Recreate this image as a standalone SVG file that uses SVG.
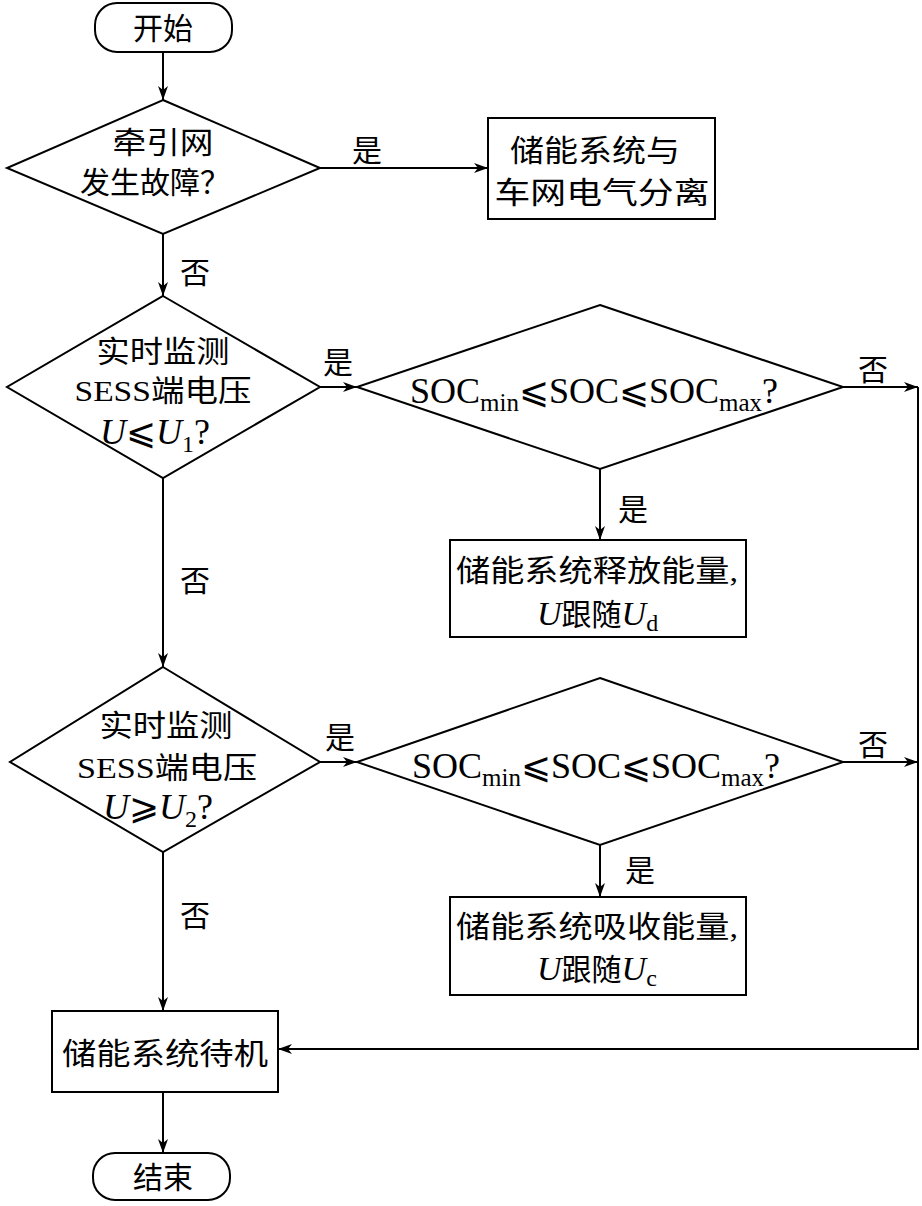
<svg xmlns="http://www.w3.org/2000/svg" width="922" height="1206" viewBox="0 0 922 1206">
<style>
.s{fill:none;stroke:#000;stroke-width:2}
.n{fill:#fff;stroke:#000;stroke-width:2}
.t{font-family:"Liberation Serif","Noto Sans CJK SC",serif;font-size:30px;fill:#000}
.c{text-anchor:middle}
.l{font-family:"Liberation Serif","DejaVu Serif","Noto Sans CJK SC",serif;font-size:36px;fill:#000}
.u{font-family:"Liberation Serif","DejaVu Serif","Noto Sans CJK SC",serif;font-size:36px;fill:#000}
.i{font-style:italic}
</style>
<defs>
<marker id="a" viewBox="0 0 14 10" refX="14" refY="5" markerWidth="14" markerHeight="10" markerUnits="userSpaceOnUse" orient="auto">
<path d="M0,0 L14,5 L0,10 L4,5 z" fill="#000"/>
</marker>
</defs>
<g id="connectors">
<line class="s" x1="163" y1="52" x2="163" y2="100" marker-end="url(#a)"/>
<line class="s" x1="320" y1="168" x2="488" y2="168" marker-end="url(#a)"/>
<line class="s" x1="163" y1="234" x2="163" y2="296" marker-end="url(#a)"/>
<line class="s" x1="320" y1="387" x2="357" y2="387" marker-end="url(#a)"/>
<line class="s" x1="843" y1="387" x2="918" y2="387" marker-end="url(#a)"/>
<line class="s" x1="600" y1="469" x2="600" y2="540" marker-end="url(#a)"/>
<line class="s" x1="163" y1="478" x2="163" y2="667" marker-end="url(#a)"/>
<line class="s" x1="320" y1="762" x2="357" y2="762" marker-end="url(#a)"/>
<line class="s" x1="843" y1="762" x2="918" y2="762" marker-end="url(#a)"/>
<line class="s" x1="600" y1="845" x2="600" y2="897" marker-end="url(#a)"/>
<line class="s" x1="163" y1="852" x2="163" y2="1011" marker-end="url(#a)"/>
<polyline class="s" points="918,387 918,1049 278,1049" marker-end="url(#a)"/>
<line class="s" x1="163" y1="1092" x2="163" y2="1153" marker-end="url(#a)"/>
<text class="t" x="352" y="161">是</text>
<text class="t" x="180" y="283">否</text>
<text class="t" x="323" y="373">是</text>
<text class="t" x="858" y="380">否</text>
<text class="t" x="618" y="520">是</text>
<text class="t" x="180" y="591">否</text>
<text class="t" x="325" y="748">是</text>
<text class="t" x="858" y="755">否</text>
<text class="t" x="625" y="881">是</text>
<text class="t" x="180" y="926">否</text>
</g>
<g id="start">
<rect class="n" x="95" y="3" width="137" height="49" rx="22" ry="22"/>
<text class="t c" x="163" y="39">开始</text>
</g>
<g id="d1">
<polygon class="n" points="163,100 320,168 163,234 7,168"/>
<text class="t c" x="163" y="153" textLength="101" lengthAdjust="spacingAndGlyphs">牵引网</text>
<text class="t c" x="155" y="193" textLength="150" lengthAdjust="spacingAndGlyphs">发生故障？</text>
</g>
<g id="b1">
<rect class="n" x="488" y="118" width="227" height="101"/>
<text class="t c" x="595" y="161" textLength="170" lengthAdjust="spacingAndGlyphs">储能系统与</text>
<text class="t c" x="602" y="203" textLength="215" lengthAdjust="spacingAndGlyphs">车网电气分离</text>
</g>
<g id="d2">
<polygon class="n" points="163,296 320,387 163,478 7,387"/>
<text class="t c" x="163" y="362" textLength="133" lengthAdjust="spacingAndGlyphs">实时监测</text>
<text class="t c" x="163" y="401" textLength="177" lengthAdjust="spacingAndGlyphs">SESS端电压</text>
<text class="u" x="100" y="444"><tspan class="i">U</tspan>⩽<tspan class="i">U</tspan><tspan font-size="24" dy="8">1</tspan><tspan dy="-8">?</tspan></text>
</g>
<g id="d3">
<polygon class="n" points="600,305 843,387 600,469 357,387"/>
<text class="l" x="410" y="403">SOC<tspan font-size="25" dy="8">min</tspan><tspan dy="-8">⩽SOC⩽SOC</tspan><tspan font-size="25" dy="8">max</tspan><tspan dy="-8">?</tspan></text>
</g>
<g id="b2">
<rect class="n" x="450" y="540" width="296" height="97"/>
<text class="t c" x="597" y="581" textLength="282" lengthAdjust="spacingAndGlyphs">储能系统释放能量,</text>
<text class="t" x="537" y="625"><tspan class="i" font-size="34">U</tspan>跟随<tspan class="i" font-size="34">U</tspan><tspan font-size="24" dy="6">d</tspan></text>
</g>
<g id="d4">
<polygon class="n" points="163,667 320,762 163,852 10,762"/>
<text class="t c" x="166" y="736" textLength="133" lengthAdjust="spacingAndGlyphs">实时监测</text>
<text class="t c" x="167" y="778" textLength="180" lengthAdjust="spacingAndGlyphs">SESS端电压</text>
<text class="u" x="103" y="819"><tspan class="i">U</tspan>⩾<tspan class="i">U</tspan><tspan font-size="24" dy="8">2</tspan><tspan dy="-8">?</tspan></text>
</g>
<g id="d5">
<polygon class="n" points="600,678 843,762 600,845 357,762"/>
<text class="l" x="412" y="778">SOC<tspan font-size="25" dy="8">min</tspan><tspan dy="-8">⩽SOC⩽SOC</tspan><tspan font-size="25" dy="8">max</tspan><tspan dy="-8">?</tspan></text>
</g>
<g id="b3">
<rect class="n" x="450" y="897" width="296" height="98"/>
<text class="t c" x="597" y="937" textLength="282" lengthAdjust="spacingAndGlyphs">储能系统吸收能量,</text>
<text class="t" x="537" y="980"><tspan class="i" font-size="34">U</tspan>跟随<tspan class="i" font-size="34">U</tspan><tspan font-size="24" dy="6">c</tspan></text>
</g>
<g id="b4">
<rect class="n" x="52" y="1011" width="226" height="81"/>
<text class="t c" x="165" y="1064" textLength="206" lengthAdjust="spacingAndGlyphs">储能系统待机</text>
</g>
<g id="end">
<rect class="n" x="93" y="1153" width="137" height="47" rx="22" ry="22"/>
<text class="t c" x="163" y="1188">结束</text>
</g>
</svg>
